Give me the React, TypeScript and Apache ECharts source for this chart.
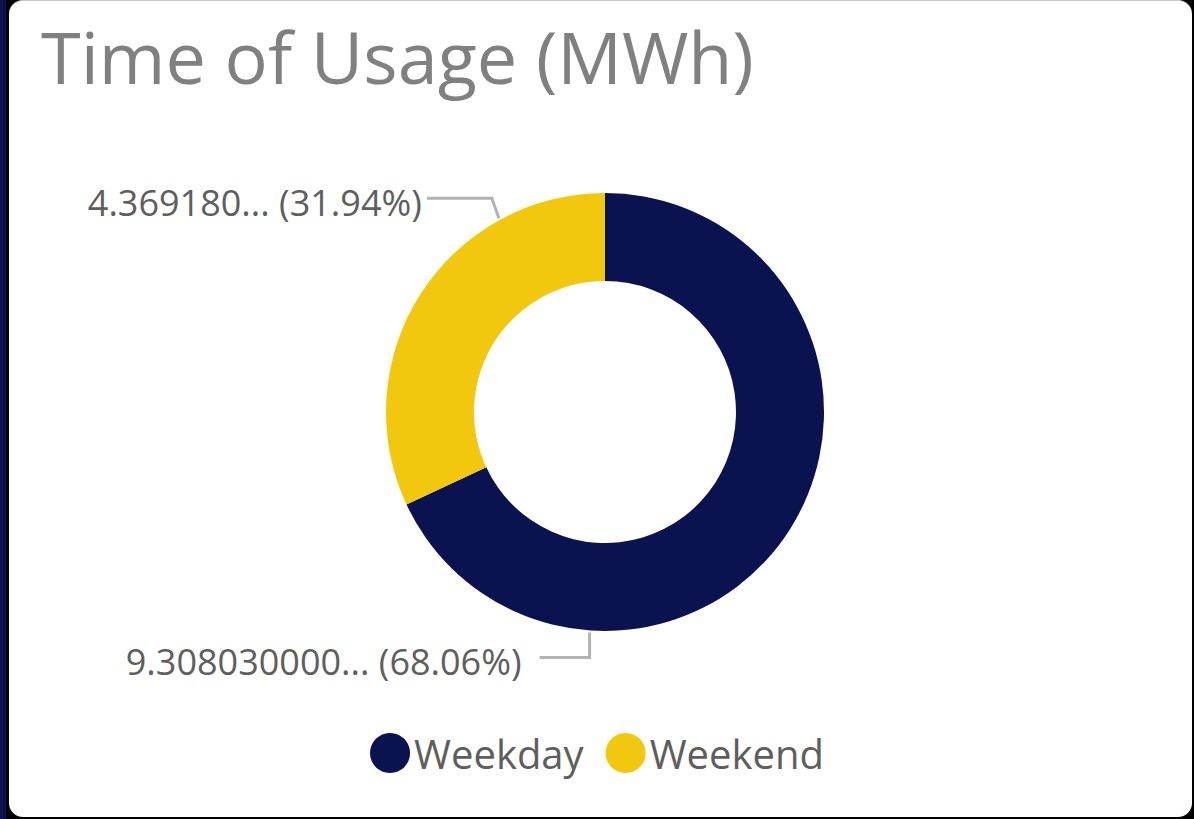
import React, { useEffect, useRef } from "react";
import * as echarts from "echarts";

const categories = ["Weekday", "Weekend"];
const values = [9.30803, 4.36918];
const displayValues = ["9.308030000...", "4.369180..."];
const colors = ["#0a1250", "#f2c80f"];
const titleText = "Time of Usage (MWh)";

export default function App() {
  const ref = useRef<HTMLDivElement>(null);
  useEffect(() => {
    document.body.style.margin = "0";
    const chart = echarts.init(ref.current!, null, { renderer: "svg" });
    const total = values.reduce((a, b) => a + b, 0);
    const cx = 605, cy = 412, rOut = 219;
    // anchor angles (deg) where Power BI-like leader lines start
    const anchorAngles = [-94, 118.7];
    chart.setOption({
      animation: false,
      title: {
        text: titleText,
        left: 36,
        top: 15,
        textStyle: { fontFamily: "Open Sans", fontSize: 72, fontWeight: "normal", color: "#808080" },
      },
      legend: {
        bottom: 41,
        left: "center",
        icon: "circle",
        itemWidth: 40,
        itemHeight: 40,
        itemGap: 22,
        data: categories,
        textStyle: { fontFamily: "Open Sans", fontSize: 40, color: "#605e5c", padding: [0, 0, 0, -1] },
      },
      series: [
        {
          type: "pie",
          center: [cx, cy],
          radius: [131, rOut],
          startAngle: 90,
          clockwise: true,
          data: categories.map((c, i) => ({ name: c, value: values[i], itemStyle: { color: colors[i] } })),
          label: {
            show: true,
            position: "outside",
            fontFamily: "Open Sans",
            fontSize: 36,
            color: "#605e5c",
            overflow: "none",
            width: 600,
            formatter: (p: any) => `${displayValues[p.dataIndex]} (${((p.value / total) * 100).toFixed(2)}%)`,
          },
          labelLine: { show: true, lineStyle: { color: "#b3b3b3", width: 3 } },
          labelLayout: (p: any) => {
            const i = p.dataIndex;
            const a = (anchorAngles[i] * Math.PI) / 180;
            const ax = cx + (rOut + 2) * Math.cos(a);
            const ay = cy - (rOut + 2) * Math.sin(a);
            if (i === 0) {
              const ly = ay + 25;
              return {
                x: ax - 68,
                y: ly + 4,
                align: "right",
                verticalAlign: "middle",
                labelLinePoints: [[ax, ay], [ax, ly], [ax - 50, ly]],
              };
            }
            const ly = ay - 20;
            return {
              x: ax - 77,
              y: ly + 4,
              align: "right",
              verticalAlign: "middle",
              labelLinePoints: [[ax, ay], [ax - 7, ly], [ax - 72, ly]],
            };
          },
        },
      ],
    });
    return () => chart.dispose();
  }, []);
  return (
    <div style={{ position: "relative", width: 1194, height: 819, background: "#000", overflow: "hidden" }}>
      <div style={{ position: "absolute", left: 0, top: 0, width: 6, height: 819, background: "#0a1150" }} />
      <div
        style={{
          position: "absolute",
          left: 9,
          top: 0,
          width: 1183,
          height: 817,
          background: "#fff",
          borderRadius: 14,
          borderTop: "1px solid #c8c8c8",
          boxSizing: "border-box",
        }}
      />
      <div ref={ref} style={{ position: "absolute", left: 0, top: 0, width: 1194, height: 819 }} />
    </div>
  );
}
